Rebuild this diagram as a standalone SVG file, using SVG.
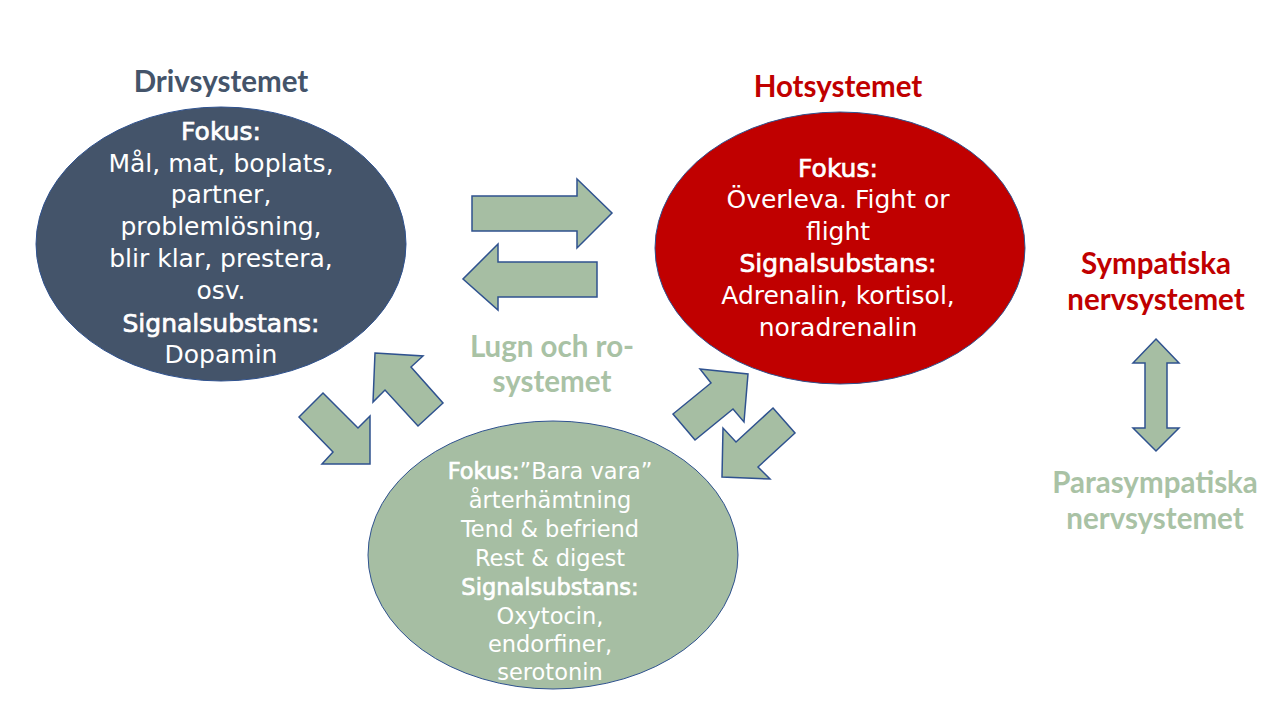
<svg xmlns="http://www.w3.org/2000/svg" width="1280" height="720" viewBox="0 0 1280 720">
<style>
.ell{stroke:#2F528F;stroke-width:1}
.arr{fill:#A6BEA3;stroke:#2F528F;stroke-width:1.5;stroke-linejoin:miter}
.t{font-family:"DejaVu Sans","Open Sans",sans-serif;fill:#FFFFFF;text-anchor:middle}
.b{stroke:#FFFFFF;stroke-width:0.7}
.big{font-size:25px}
.sm{font-size:22.5px}
.h{font-family:Lato,"Liberation Sans",sans-serif;font-weight:700;font-size:29.5px;text-anchor:middle}
</style>
<rect width="1280" height="720" fill="#FFFFFF"/>
<g id="connectors">
<polygon class="arr" points="472,196 577,196 577,179 612,213 577,248 577,231 472,231"/>
<polygon class="arr" points="597,262 498,262 498,244 463,279 498,310 498,297 597,297"/>
<polygon class="arr" points="299,417 323,393 358,428 370,416 370,464 322,464 333,452"/>
<polygon class="arr" points="375,353 423,356 411,367 443,403 418,426 385,390 373,402"/>
<polygon class="arr" points="700,369 748,374 744,422 733,409 695,440 673,414 711,383"/>
<polygon class="arr" points="773,408 795,433 758,467 770,479 722,477 723,428 736,442"/>
<polygon class="arr" points="1156,339 1179,363 1167,363 1167,428 1179,428 1156,451 1133,428 1145,428 1145,363 1133,363"/>
</g>
<g id="drive">
<text class="h" x="221" y="92" fill="#44546A">Drivsystemet</text>
<ellipse class="ell" cx="221" cy="244" rx="185" ry="137" fill="#44546A"/>
<text class="t big b" x="221" y="140">Fokus:</text>
<text class="t big" x="221" y="172">Mål, mat, boplats,</text>
<text class="t big" x="221" y="203">partner,</text>
<text class="t big" x="221" y="235">problemlösning,</text>
<text class="t big" x="221" y="267">blir klar, prestera,</text>
<text class="t big" x="221" y="299">osv.</text>
<text class="t big b" x="221" y="332">Signalsubstans:</text>
<text class="t big" x="221" y="363">Dopamin</text>
</g>
<g id="hot">
<text class="h" x="838" y="97" fill="#C00000">Hotsystemet</text>
<ellipse class="ell" cx="840" cy="248" rx="185" ry="136" fill="#C00000"/>
<text class="t big b" x="838" y="177">Fokus:</text>
<text class="t big" x="838" y="208">Överleva. Fight or</text>
<text class="t big" x="838" y="240">flight</text>
<text class="t big b" x="838" y="272">Signalsubstans:</text>
<text class="t big" x="838" y="304">Adrenalin, kortisol,</text>
<text class="t big" x="838" y="336">noradrenalin</text>
</g>
<g id="calm">
<text class="h" x="552" y="357" fill="#A9C2A5">Lugn och ro-</text>
<text class="h" x="552" y="392" fill="#A9C2A5">systemet</text>
<ellipse class="ell" cx="553" cy="555" rx="185" ry="134" fill="#A6BEA3"/>
<text class="t sm" x="550" y="479"><tspan class="b">Fokus:</tspan>”Bara vara”</text>
<text class="t sm" x="550" y="508">årterhämtning</text>
<text class="t sm" x="550" y="537">Tend &amp; befriend</text>
<text class="t sm" x="550" y="566">Rest &amp; digest</text>
<text class="t sm b" x="550" y="595">Signalsubstans:</text>
<text class="t sm" x="550" y="624">Oxytocin,</text>
<text class="t sm" x="550" y="652">endorfiner,</text>
<text class="t sm" x="550" y="680">serotonin</text>
</g>
<g id="symp">
<text class="h" x="1156" y="274" fill="#C00000">Sympatiska</text>
<text class="h" x="1156" y="310" fill="#C00000">nervsystemet</text>
</g>
<g id="parasymp">
<text class="h" x="1155" y="493" fill="#A9C2A5">Parasympatiska</text>
<text class="h" x="1155" y="529" fill="#A9C2A5">nervsystemet</text>
</g>
</svg>
